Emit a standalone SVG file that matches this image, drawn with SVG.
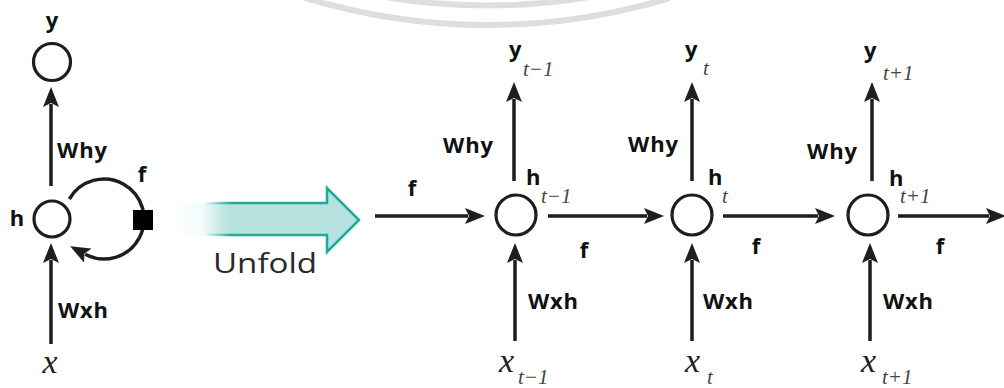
<svg xmlns="http://www.w3.org/2000/svg" width="1004" height="388" viewBox="0 0 1004 388">
<style>
.ln{fill:none;stroke:#1e1e1e;stroke-width:3.5}
.nd{fill:#fff;stroke:#1e1e1e;stroke-width:3.2}
.lb{font-family:"Open Sans","Liberation Sans",sans-serif;font-weight:700;font-size:22px;fill:#111}
.it{font-family:"Liberation Serif",serif;font-style:italic;fill:#222}
.sb{font-size:21px;fill:#444}
.xx{font-size:34px}
</style>
<defs>
<marker id="ah" viewBox="0 0 20 16" markerWidth="20" markerHeight="16" refX="3" refY="8" orient="auto" markerUnits="userSpaceOnUse">
<path d="M0,0 L20,8 L0,16 L4,8 Z" fill="#1e1e1e"/>
</marker>
<linearGradient id="ufill" gradientUnits="userSpaceOnUse" x1="173" y1="0" x2="359" y2="0">
<stop offset="0" stop-color="#b5e2df" stop-opacity="0"/>
<stop offset="0.15" stop-color="#b5e2df" stop-opacity="0.15"/>
<stop offset="0.3" stop-color="#b5e2df" stop-opacity="1"/>
<stop offset="1" stop-color="#b5e2df" stop-opacity="1"/>
</linearGradient>
<linearGradient id="ustroke" gradientUnits="userSpaceOnUse" x1="173" y1="0" x2="359" y2="0">
<stop offset="0" stop-color="#1fa99c" stop-opacity="0"/>
<stop offset="0.17" stop-color="#1fa99c" stop-opacity="0"/>
<stop offset="0.32" stop-color="#1fa99c" stop-opacity="1"/>
<stop offset="1" stop-color="#1fa99c" stop-opacity="1"/>
</linearGradient>
</defs>
<rect width="1004" height="388" fill="#fff"/>
<g id="watermark" fill="none" stroke="#dedede" stroke-width="6">
<path d="M305,-2 Q488,52 670,-2"/>
<path d="M385,-3 Q487,14 590,-3"/>
</g>
<g id="connectors">
<path class="ln" d="M51,186 L51,104" marker-end="url(#ah)"/>
<path class="ln" d="M51,344 L51,260" marker-end="url(#ah)"/>
<path class="ln" d="M69.4,199 A40,40 0 1,1 85.2,254.3" marker-end="url(#ah)"/>
<path class="ln" d="M375,216 L468,216" marker-end="url(#ah)"/>
<path class="ln" d="M548,216 L647,216" marker-end="url(#ah)"/>
<path class="ln" d="M723,216 L818,216" marker-end="url(#ah)"/>
<path class="ln" d="M898,216 L989,216" marker-end="url(#ah)"/>
<path class="ln" d="M514,181 L514,99" marker-end="url(#ah)"/>
<path class="ln" d="M692,181 L692,99" marker-end="url(#ah)"/>
<path class="ln" d="M872,181 L872,99" marker-end="url(#ah)"/>
<path class="ln" d="M515,341 L515,260" marker-end="url(#ah)"/>
<path class="ln" d="M692,341 L692,260" marker-end="url(#ah)"/>
<path class="ln" d="M870,341 L870,260" marker-end="url(#ah)"/>
</g>
<g id="node-y">
<circle class="nd" cx="52" cy="62" r="18.5"/>
<text class="lb" x="52" y="28" text-anchor="middle">y</text>
</g>
<g id="node-h">
<circle class="nd" cx="52" cy="219" r="18"/>
<text class="lb" x="17" y="226" text-anchor="middle">h</text>
<rect x="133" y="210" width="20" height="20" fill="#000"/>
<text class="lb" x="142" y="182" text-anchor="middle">f</text>
<text class="lb" x="57" y="158" textLength="50">Why</text>
<text class="lb" x="58" y="318" textLength="50">Wxh</text>
<text class="it xx" x="50" y="373" text-anchor="middle">x</text>
</g>
<g id="unfold">
<path d="M173,203 L327,203 L327,188 L359,220 L327,252 L327,235 L173,235 Z" fill="url(#ufill)" stroke="url(#ustroke)" stroke-width="2.5" stroke-linejoin="miter"/>
<text x="213" y="273" font-family="Open Sans, Liberation Sans, sans-serif" font-size="28" fill="#2a2a2a" textLength="104" lengthAdjust="spacingAndGlyphs">Unfold</text>
</g>
<g id="node-t-1">
<circle class="nd" cx="516" cy="215" r="20"/>
<text class="lb" x="412" y="196" text-anchor="middle">f</text>
<text class="lb" x="443" y="153" textLength="50">Why</text>
<text class="lb" x="509" y="57">y</text><text class="it sb" x="523" y="76">t−1</text>
<text class="lb" x="526" y="185">h</text><text class="it sb" x="541" y="203">t−1</text>
<text class="lb" x="584" y="258" text-anchor="middle">f</text>
<text class="lb" x="528" y="309" textLength="50">Wxh</text>
<text class="it xx" x="499" y="372">x</text><text class="it sb" x="518" y="384">t−1</text>
</g>
<g id="node-t">
<circle class="nd" cx="692" cy="215" r="20"/>
<text class="lb" x="628" y="152" textLength="50">Why</text>
<text class="lb" x="685" y="57">y</text><text class="it sb" x="703" y="75">t</text>
<text class="lb" x="708" y="185">h</text><text class="it sb" x="722" y="203">t</text>
<text class="lb" x="756" y="254" text-anchor="middle">f</text>
<text class="lb" x="703" y="309" textLength="50">Wxh</text>
<text class="it xx" x="685" y="372">x</text><text class="it sb" x="707" y="384">t</text>
</g>
<g id="node-t+1">
<circle class="nd" cx="868" cy="215" r="20"/>
<text class="lb" x="807" y="159" textLength="50">Why</text>
<text class="lb" x="864" y="58">y</text><text class="it sb" x="883" y="80">t+1</text>
<text class="lb" x="889" y="186">h</text><text class="it sb" x="900" y="203">t+1</text>
<text class="lb" x="940" y="254" text-anchor="middle">f</text>
<text class="lb" x="883" y="309" textLength="50">Wxh</text>
<text class="it xx" x="861" y="372">x</text><text class="it sb" x="882" y="384">t+1</text>
</g>
</svg>
